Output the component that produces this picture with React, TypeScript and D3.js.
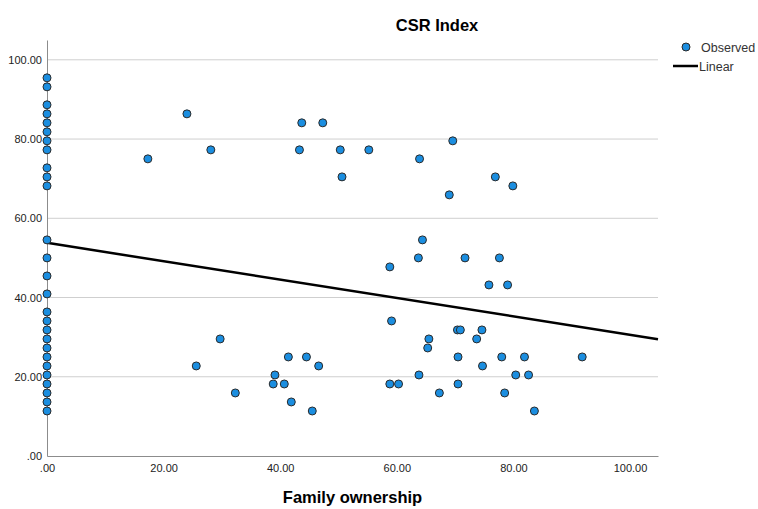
import { useEffect, useRef } from 'react';
import * as d3 from 'd3';

// Family ownership (x) values of the scattered points
const familyOwnership: number[] = [
  24.0, 43.7, 47.3, 28.1, 43.3, 50.3, 55.2, 50.6, 17.3,
  69.6, 63.9, 76.9, 79.9, 69.0,
  64.4, 63.7, 71.7, 77.6, 58.8, 75.8, 79.0, 59.1, 70.4, 70.9, 74.6, 65.5, 73.7, 65.3,
  29.7, 25.6, 41.4, 44.5, 46.6, 39.1, 38.8, 40.7, 32.3, 41.9, 45.5,
  70.5, 78.0, 81.9, 91.8, 74.7, 63.8, 80.4, 82.6, 58.8, 60.3, 70.5, 67.3, 78.5, 83.6,
];
// CSR Index (y) values of the scattered points
const csrIndex: number[] = [
  86.36, 84.09, 84.09, 77.27, 77.27, 77.27, 77.27, 70.45, 75.0,
  79.55, 75.0, 70.45, 68.18, 65.91,
  54.55, 50.0, 50.0, 50.0, 47.73, 43.18, 43.18, 34.09, 31.82, 31.82, 31.82, 29.55, 29.55, 27.27,
  29.55, 22.73, 25.0, 25.0, 22.73, 20.45, 18.18, 18.18, 15.91, 13.64, 11.36,
  25.0, 25.0, 25.0, 25.0, 22.73, 20.45, 20.45, 20.45, 18.18, 18.18, 18.18, 15.91, 15.91, 11.36,
];
// firms with zero family ownership
const zeroOwnershipCsr: number[] = [
  95.45, 93.18, 88.64, 86.36, 84.09, 81.82, 79.55, 77.27, 72.73, 70.45, 68.18,
  54.55, 50.0, 45.45, 40.91, 36.36, 34.09, 31.82, 29.55, 27.27, 25.0, 22.73,
  20.45, 18.18, 15.91, 13.64, 11.36,
];

const tickValues: number[] = [0, 20, 40, 60, 80, 100];
// linear fit
const fitIntercept = 53.8;
const fitSlope = -0.232;

const fmt = (v: number) => (v === 0 ? '.00' : v.toFixed(2));

const App: React.FC = () => {
  const svgRef = useRef<SVGSVGElement | null>(null);

  useEffect(() => {
    if (svgRef.current === null) return;
    const width = 758;
    const height = 509;
    const margin = { top: 40, right: 100, bottom: 53, left: 47 };
    const font = '"Liberation Sans", Arial, sans-serif';

    const x = d3.scaleLinear().domain([0, 104.8]).range([margin.left, width - margin.right]);
    const y = d3.scaleLinear().domain([0, 105]).range([height - margin.bottom, margin.top]);

    const svg = d3.select(svgRef.current);
    svg.selectAll('*').remove();
    svg.attr('width', width).attr('height', height).style('font-family', font);

    // grid
    svg.append('g')
      .selectAll('line')
      .data(tickValues.slice(1))
      .enter()
      .append('line')
      .attr('x1', x(0))
      .attr('x2', x(104.8))
      .attr('y1', (d) => y(d))
      .attr('y2', (d) => y(d))
      .attr('stroke', '#cfcfcf')
      .attr('stroke-width', 1);

    // axes
    const yAxis = svg.append('g')
      .attr('transform', `translate(${x(0)},0)`)
      .call(d3.axisLeft(y).tickValues(tickValues).tickFormat((d) => fmt(+d)).tickSize(0).tickPadding(5));
    yAxis.select('.domain').attr('stroke', '#8c8c8c');
    yAxis.selectAll('.tick text').attr('font-size', 11).attr('fill', '#222').attr('font-family', font);

    const xAxis = svg.append('g')
      .attr('transform', `translate(0,${y(0)})`)
      .call(d3.axisBottom(x).tickValues(tickValues).tickFormat((d) => fmt(+d)).tickSize(0).tickPadding(8));
    xAxis.select('.domain').attr('stroke', '#8c8c8c');
    xAxis.selectAll('.tick text').attr('font-size', 11).attr('fill', '#222').attr('font-family', font);

    // fit line
    svg.append('line')
      .attr('x1', x(0))
      .attr('y1', y(fitIntercept))
      .attr('x2', x(104.8))
      .attr('y2', y(fitIntercept + fitSlope * 104.8))
      .attr('stroke', '#000')
      .attr('stroke-width', 2.5);

    // points
    const pts = familyOwnership.map((f, i) => ({ fo: f, csr: csrIndex[i] }))
      .concat(zeroOwnershipCsr.map((c) => ({ fo: 0, csr: c })));
    svg.append('g')
      .selectAll('circle')
      .data(pts)
      .enter()
      .append('circle')
      .attr('cx', (d) => x(d.fo))
      .attr('cy', (d) => y(d.csr))
      .attr('r', 4)
      .attr('fill', '#1b8ee0')
      .attr('stroke', '#2a2a2a')
      .attr('stroke-width', 1);

    // titles
    svg.append('text')
      .attr('x', 437)
      .attr('y', 31)
      .attr('text-anchor', 'middle')
      .attr('font-size', 16.5)
      .attr('font-weight', 'bold')
      .attr('fill', '#000')
      .text('CSR Index');

    svg.append('text')
      .attr('x', (x(0) + x(104.8)) / 2)
      .attr('y', 503)
      .attr('text-anchor', 'middle')
      .attr('font-size', 16.5)
      .attr('font-weight', 'bold')
      .attr('fill', '#000')
      .text('Family ownership');

    // legend
    const legend = svg.append('g');
    legend.append('circle')
      .attr('cx', 686).attr('cy', 47).attr('r', 4)
      .attr('fill', '#1b8ee0').attr('stroke', '#2a2a2a');
    legend.append('text')
      .attr('x', 701).attr('y', 52)
      .attr('font-size', 12.5).attr('fill', '#333')
      .text('Observed');
    legend.append('line')
      .attr('x1', 673).attr('x2', 698).attr('y1', 66).attr('y2', 66)
      .attr('stroke', '#000').attr('stroke-width', 2.5);
    legend.append('text')
      .attr('x', 699).attr('y', 71)
      .attr('font-size', 12.5).attr('fill', '#333')
      .text('Linear');
  }, []);

  return <svg ref={svgRef} style={{ position: 'absolute', left: 0, top: 0 }}></svg>;
};

export default App;
